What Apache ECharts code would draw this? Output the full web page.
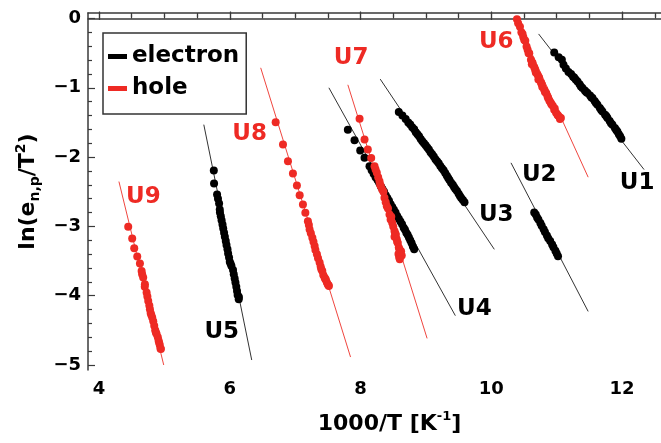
<!DOCTYPE html>
<html>
<head>
<meta charset="utf-8">
<script src="https://cdn.jsdelivr.net/npm/echarts@6/dist/echarts.min.js"></script>
<style>
  html, body { margin: 0; padding: 0; background: #fff; }
  #chart { width: 661px; height: 443px; }
</style>
</head>
<body>
<div id="chart"></div>
<script>
var u1 = [[10.962,-0.492],[11.03,-0.56],[11.079,-0.597],[11.104,-0.669],[11.14,-0.72],[11.180,-0.774],[11.22,-0.80],
  [11.25,-0.84],[11.267,-0.852],[11.29,-0.88],[11.318,-0.909],[11.35,-0.95],[11.37,-0.98],[11.394,-1.004],[11.43,-1.04],
  [11.45,-1.06],[11.470,-1.076],[11.51,-1.11],[11.53,-1.14],[11.547,-1.148],[11.58,-1.19],[11.60,-1.22],[11.623,-1.245],
  [11.66,-1.29],[11.68,-1.32],[11.699,-1.341],[11.74,-1.39],[11.76,-1.41],[11.776,-1.436],[11.81,-1.48],[11.83,-1.51],
  [11.852,-1.532],[11.89,-1.58],[11.91,-1.61],[11.928,-1.629],[11.95,-1.67],[11.97,-1.70],[11.989,-1.734]];
var u2 = [[10.656,-2.80],[10.68,-2.83],[10.70,-2.87],[10.72,-2.90],[10.75,-2.95],[10.77,-2.99],[10.80,-3.04],[10.82,-3.08],
  [10.85,-3.13],[10.87,-3.17],[10.90,-3.21],[10.93,-3.26],[10.95,-3.30],[10.98,-3.35],[11.00,-3.39],[11.02,-3.43]];
var u3 = [[8.585,-1.35],[8.64,-1.40],[8.69,-1.45],[8.73,-1.50],[8.76,-1.53],[8.79,-1.57],[8.82,-1.60],[8.845,-1.64],
  [8.87,-1.67],[8.895,-1.70],[8.92,-1.74],[8.945,-1.77],[8.97,-1.80],[8.995,-1.83],[9.02,-1.86],[9.045,-1.89],
  [9.07,-1.93],[9.095,-1.96],[9.12,-1.99],[9.145,-2.03],[9.17,-2.06],[9.195,-2.09],[9.22,-2.13],[9.245,-2.16],
  [9.27,-2.19],[9.295,-2.23],[9.32,-2.27],[9.34,-2.30],[9.36,-2.33],[9.385,-2.37],[9.41,-2.40],[9.43,-2.43],
  [9.45,-2.46],[9.475,-2.49],[9.50,-2.53],[9.52,-2.56],[9.54,-2.59],[9.565,-2.62],[9.59,-2.65]];
var u4 = [[7.806,-1.604],[7.908,-1.758],[7.995,-1.906],[8.061,-2.011],[8.137,-2.132],[8.17,-2.19],[8.20,-2.24],
  [8.23,-2.29],[8.26,-2.33],[8.285,-2.37],[8.31,-2.42],[8.335,-2.46],[8.36,-2.50],[8.385,-2.55],[8.41,-2.59],
  [8.435,-2.63],[8.46,-2.68],[8.485,-2.72],[8.51,-2.76],[8.535,-2.80],[8.56,-2.85],[8.585,-2.89],[8.61,-2.93],
  [8.635,-2.97],[8.66,-3.02],[8.68,-3.05],[8.70,-3.09],[8.72,-3.12],[8.74,-3.16],[8.76,-3.20],[8.78,-3.24],
  [8.80,-3.29],[8.82,-3.33]];
var u5 = [[5.756,-2.194],[5.760,-2.381],[5.806,-2.540],[5.82,-2.60],[5.837,-2.669],[5.847,-2.755],[5.85,-2.80],
  [5.863,-2.852],[5.875,-2.91],[5.889,-2.971],[5.90,-3.03],[5.913,-3.091],[5.925,-3.15],[5.939,-3.212],[5.95,-3.27],
  [5.965,-3.331],[5.975,-3.39],[5.989,-3.450],[6.00,-3.51],[6.013,-3.54],[6.026,-3.571],[6.05,-3.63],[6.061,-3.691],
  [6.075,-3.75],[6.087,-3.811],[6.10,-3.87],[6.111,-3.931],[6.12,-3.99],[6.14,-4.02],[6.137,-4.050]];
var u6 = [[10.392,-0.012],[10.41,-0.07],[10.438,-0.118],[10.46,-0.20],[10.478,-0.223],[10.49,-0.27],[10.504,-0.309],
  [10.52,-0.32],[10.539,-0.406],[10.555,-0.45],[10.570,-0.501],[10.58,-0.50],[10.606,-0.597],[10.62,-0.66],[10.63,-0.64],
  [10.656,-0.702],[10.67,-0.74],[10.68,-0.78],[10.707,-0.813],[10.72,-0.88],[10.73,-0.85],[10.759,-0.924],[10.77,-0.95],
  [10.78,-0.99],[10.809,-1.029],[10.82,-1.06],[10.84,-1.08],[10.860,-1.125],[10.87,-1.15],[10.89,-1.19],[10.911,-1.220],
  [10.92,-1.24],[10.94,-1.26],[10.962,-1.317],[10.97,-1.30],[10.99,-1.36],[11.012,-1.388],[11.02,-1.40],[11.04,-1.42],
  [11.05,-1.45],[11.064,-1.436]];
var u7 = [[7.985,-1.446],[8.061,-1.748],[8.111,-1.892],[8.163,-2.012],[8.214,-2.132],[8.23,-2.18],[8.249,-2.227],
  [8.27,-2.29],[8.290,-2.348],[8.30,-2.40],[8.31,-2.42],[8.331,-2.468],[8.35,-2.50],[8.366,-2.587],[8.385,-2.65],
  [8.402,-2.708],[8.42,-2.74],[8.443,-2.827],[8.46,-2.90],[8.47,-2.86],[8.484,-2.947],[8.50,-3.00],[8.519,-3.068],
  [8.52,-3.15],[8.53,-3.10],[8.54,-3.12],[8.554,-3.187],[8.56,-3.22],[8.57,-3.24],[8.585,-3.306],[8.595,-3.33],
  [8.62,-3.36],[8.63,-3.42],[8.58,-3.40],[8.59,-3.44],[8.611,-3.427],[8.60,-3.475]];
var u8 = [[6.702,-1.499],[6.814,-1.820],[6.890,-2.060],[6.966,-2.237],[7.027,-2.410],[7.069,-2.549],[7.119,-2.683],
  [7.156,-2.803],[7.195,-2.924],[7.21,-2.98],[7.221,-3.043],[7.24,-3.10],[7.263,-3.163],[7.28,-3.22],[7.298,-3.283],
  [7.31,-3.34],[7.333,-3.403],[7.35,-3.46],[7.374,-3.522],[7.39,-3.58],[7.40,-3.62],[7.415,-3.643],[7.43,-3.70],
  [7.450,-3.738],[7.46,-3.76],[7.47,-3.77],[7.485,-3.810],[7.50,-3.84],[7.51,-3.85],[7.516,-3.859]];
var u9 = [[4.447,-3.004],[4.508,-3.173],[4.539,-3.317],[4.585,-3.436],[4.626,-3.537],[4.652,-3.643],[4.66,-3.69],
  [4.676,-3.738],[4.70,-3.87],[4.702,-3.835],[4.728,-3.954],[4.74,-4.01],[4.753,-4.075],[4.77,-4.14],[4.779,-4.194],
  [4.79,-4.25],[4.80,-4.28],[4.814,-4.314],[4.83,-4.37],[4.845,-4.435],[4.86,-4.50],[4.87,-4.53],[4.881,-4.554],
  [4.90,-4.60],[4.912,-4.65],[4.92,-4.68],[4.93,-4.71],[4.94,-4.76],[4.947,-4.770]];

// Arrhenius fit lines, two ends each
var u1Fit = [[10.723,-0.223],[12.336,-2.180]];
var u2Fit = [[10.301,-2.083],[11.481,-4.227]];
var u3Fit = [[8.301,-0.875],[10.046,-3.331]];
var u4Fit = [[7.516,-1.0],[9.450,-4.288]];
var u5Fit = [[5.603,-1.532],[6.336,-4.928]];
var u6Fit = [[10.39,-0.03],[11.481,-2.29]];
var u7Fit = [[7.806,-0.957],[9.018,-4.616]];
var u8Fit = [[6.473,-0.712],[7.847,-4.885]];
var u9Fit = [[4.305,-2.353],[4.99,-5.0]];

var levelNames = ['U1', 'U2', 'U3', 'U4', 'U5', 'U6', 'U7', 'U8', 'U9'];
var levelType = ['electron', 'electron', 'electron', 'electron', 'electron', 'hole', 'hole', 'hole', 'hole'];
var levelPts = [u1, u2, u3, u4, u5, u6, u7, u8, u9];
var levelFit = [u1Fit, u2Fit, u3Fit, u4Fit, u5Fit, u6Fit, u7Fit, u8Fit, u9Fit];
// where the level names sit
var tagAt = [[12.229,-2.381],[10.733,-2.252],[10.076,-2.842],[9.740,-4.194],[5.878,-4.525],
  [10.076,-0.338],[7.855,-0.568],[6.305,-1.662],[4.68,-2.58]];

var xMajor = [4, 6, 8, 10, 12];
var xMinor = [4.5, 5, 5.5, 6.5, 7, 7.5, 8.5, 9, 9.5, 10.5, 11, 11.5, 12.5];
var yMajor = [0, -1, -2, -3, -4, -5];
var yMinor = [-0.2, -0.4, -0.6, -0.8, -1.2, -1.4, -1.6, -1.8, -2.2, -2.4, -2.6, -2.8,
  -3.2, -3.4, -3.6, -3.8, -4.2, -4.4, -4.6, -4.8];

var FONT = 'DejaVu Sans';
var RED = '#ee2a24';
var BLACK = '#000';
var AXIS = '#3a3a3a';

function axisCfg(kind, pos, ticks, len, showLine, showLabel) {
  var a = {
    type: 'value',
    position: pos,
    min: kind == 'x' ? 3.832 : -5.072,
    max: kind == 'x' ? 12.595 : 0.079,
    axisLine: { show: showLine, lineStyle: { color: AXIS, width: 1.5 } },
    axisTick: { show: true, inside: true, length: len, customValues: ticks,
      lineStyle: { color: AXIS, width: 1.2 } },
    axisLabel: { show: showLabel, customValues: ticks, margin: kind == 'x' ? 10 : 7,
      color: '#000', fontFamily: FONT, fontWeight: 'bold', fontSize: 18,
      formatter: function (v) { return String(v).replace('-', '\u2212'); } },
    splitLine: { show: false }
  };
  return a;
}

var xAxes = [
  axisCfg('x', 'bottom', xMajor, 7, true, true),
  axisCfg('x', 'bottom', xMinor, 4, false, false),
  axisCfg('x', 'top', xMajor, 7, true, false),
  axisCfg('x', 'top', xMinor, 4, false, false)
];
xAxes[0].name = '1000/T [K{sup|-1}]';
xAxes[0].nameLocation = 'middle';
xAxes[0].nameGap = 40;
xAxes[0].nameTextStyle = {
  color: '#000', fontFamily: FONT, fontWeight: 'bold', fontSize: 22, lineHeight: 28,
  padding: [0, 0, 0, 30],
  rich: { sup: { fontFamily: FONT, fontWeight: 'bold', fontSize: 13, lineHeight: 14, verticalAlign: 'top', color: '#000' } }
};

var yAxes = [
  axisCfg('y', 'left', yMajor, 7, true, true),
  axisCfg('y', 'left', yMinor, 4, false, false)
];
yAxes[0].name = 'ln(e{sub|n,p}/T{sup|2})';
yAxes[0].nameLocation = 'middle';
yAxes[0].nameRotate = 90;
yAxes[0].nameGap = 46;
yAxes[0].nameTextStyle = {
  color: '#000', fontFamily: FONT, fontWeight: 'bold', fontSize: 22, lineHeight: 28,
  rich: {
    sub: { fontFamily: FONT, fontWeight: 'bold', fontSize: 14, lineHeight: 14, verticalAlign: 'bottom', color: '#000' },
    sup: { fontFamily: FONT, fontWeight: 'bold', fontSize: 14, lineHeight: 14, verticalAlign: 'top', color: '#000' }
  }
};

var series = [];
for (var i = 0; i < levelNames.length; i++) {
  var col = levelType[i] == 'hole' ? RED : BLACK;
  series.push({
    type: 'line', name: 'fit ' + levelNames[i], data: levelFit[i], symbol: 'none', silent: true, z: 2,
    lineStyle: { width: 1, color: levelType[i] == 'hole' ? '#f0463f' : '#333' }
  });
  series.push({
    type: 'scatter', name: levelType[i], data: levelPts[i], symbol: 'circle', symbolSize: 8, z: 3,
    itemStyle: { color: col, opacity: 1 }
  });
}

// the U1..U9 tags
var tagData = [];
for (var i = 0; i < levelNames.length; i++) {
  tagData.push({
    value: tagAt[i], name: levelNames[i],
    label: { color: levelType[i] == 'hole' ? RED : '#000' }
  });
}
series.push({
  type: 'scatter', name: 'tags', data: tagData, symbolSize: 0, silent: true, z: 5,
  itemStyle: { opacity: 1 },
  label: { show: true, position: 'inside', formatter: '{b}', fontFamily: FONT, fontWeight: 'bold', fontSize: 23 }
});

var option = {
  animation: false,
  backgroundColor: '#fff',
  grid: { left: 88, right: -1, top: 13, bottom: 72, containLabel: false },
  xAxis: xAxes,
  yAxis: yAxes,
  legend: {
    data: [{ name: 'electron', icon: 'rect' }, { name: 'hole', icon: 'rect' }],
    orient: 'vertical', left: 103, top: 33, itemWidth: 19, itemHeight: 5, itemGap: 9,
    padding: [12, 7, 14, 5], borderColor: '#333', borderWidth: 1.5, backgroundColor: '#fff',
    selectedMode: false,
    itemStyle: { opacity: 1 },
    textStyle: { color: '#000', fontFamily: FONT, fontWeight: 'bold', fontSize: 23 }
  },
  series: series
};

var chart = echarts.init(document.getElementById('chart'));
chart.setOption(option);
</script>
</body>
</html>
